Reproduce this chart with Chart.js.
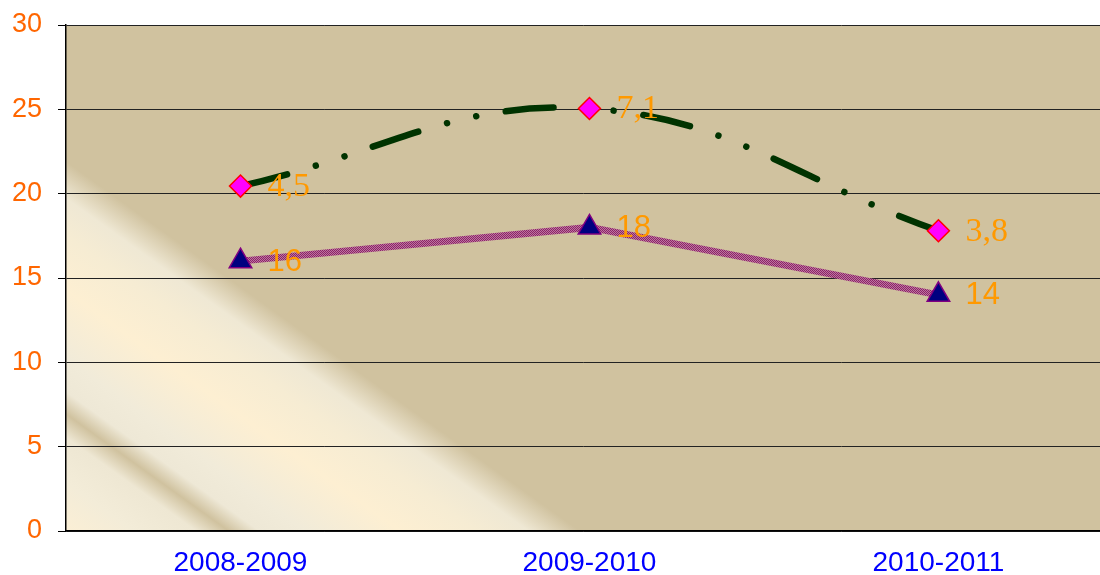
<!DOCTYPE html>
<html>
<head>
<meta charset="utf-8">
<script src="https://cdn.jsdelivr.net/npm/chart.js@4.4.1/dist/chart.umd.min.js"></script>
<style>
  html, body { margin: 0; padding: 0; background: #fff; }
  #chart { display: block; }
</style>
</head>
<body>
<canvas id="chart" width="1100" height="575"></canvas>
<script>
// datos
const temporadas = ['2008-2009', '2009-2010', '2010-2011'];
const valoresArriba = [20.45, 25.05, 17.8];
const etiquetasArriba = ['4,5', '7,1', '3,8'];
const valoresAbajo = [16, 18, 14];
const etiquetasAbajo = ['16', '18', '14'];
const yMin = 0, yMax = 30, yPaso = 5;
// el gráfico original está recortado a la derecha: el eje x va de -0.5 a ~2.46
const xMin = -0.5, xMax = 2.463;

// textura de la línea malva (cuadriculado fino)
function patronMalva() {
    const c = document.createElement('canvas');
    c.width = 2; c.height = 2;
    const g = c.getContext('2d');
    g.fillStyle = '#BC74A0'; g.fillRect(0, 0, 2, 2);
    g.fillStyle = '#8C2466'; g.fillRect(0, 0, 1, 1); g.fillRect(1, 1, 1, 1);
    return document.getElementById('chart').getContext('2d').createPattern(c, 'repeat');
}

const fondoPlugin = {
    id: 'fondo',
    beforeDraw(chart) {
        const { ctx, chartArea: a } = chart;
        const D = 320;
        const g = ctx.createLinearGradient(a.left, a.bottom, a.left + 0.584 * D, a.bottom - 0.812 * D);
        const paradas = [
            [0, '#FBEFD5'], [40, '#F3ECD8'], [76, '#EEE7D3'], [95, '#D0C29F'],
            [113, '#EEE8D6'], [140, '#F1EBD9'], [195, '#FDEFD2'], [240, '#F6ECD3'],
            [270, '#EFE8D4'], [300, '#D0C29F'], [320, '#D0C29F']
        ];
        paradas.forEach(p => g.addColorStop(p[0] / D, p[1]));
        ctx.save();
        ctx.fillStyle = g;
        ctx.fillRect(a.left, a.top, a.right - a.left, a.bottom - a.top);
        ctx.restore();
    }
};

const etiquetasPlugin = {
    id: 'etiquetas',
    afterDatasetsDraw(chart) {
        const ctx = chart.ctx;
        const conjuntos = [
            { textos: etiquetasArriba, font: '34px "Liberation Serif", "Times New Roman", serif' },
            { textos: etiquetasAbajo, font: '31px "Liberation Sans", Arial, sans-serif' }
        ];
        ctx.save();
        ctx.fillStyle = '#FF9900';
        ctx.textAlign = 'left';
        ctx.textBaseline = 'middle';
        conjuntos.forEach((c, i) => {
            const meta = chart.getDatasetMeta(i);
            ctx.font = c.font;
            meta.data.forEach((pt, j) => {
                ctx.fillText(c.textos[j], pt.x + 27, pt.y + 1);
            });
        });
        ctx.restore();
    }
};

const puntos = vals => vals.map((v, i) => ({ x: i, y: v }));

new Chart(document.getElementById('chart'), {
    type: 'line',
    data: {
        datasets: [
            {
                data: puntos(valoresArriba),
                borderColor: '#003300',
                borderWidth: 6.5,
                borderDash: [48, 30, 0.01, 30, 0.01, 30],
                borderCapStyle: 'round',
                tension: 0.4,
                pointStyle: 'rectRot',
                pointRadius: 11,
                pointBackgroundColor: '#FF00FF',
                pointBorderColor: '#FF0000',
                pointBorderWidth: 1.5
            },
            {
                data: puntos(valoresAbajo),
                borderColor: patronMalva(),
                borderWidth: 7,
                tension: 0,
                pointStyle: 'triangle',
                pointRadius: 13,
                pointBackgroundColor: '#000080',
                pointBorderColor: '#800080',
                pointBorderWidth: 1.5
            }
        ]
    },
    options: {
        responsive: false,
        animation: false,
        layout: { autoPadding: false, padding: { top: 25, right: 0, left: 0, bottom: 0 } },
        plugins: { legend: { display: false }, tooltip: { enabled: false } },
        scales: {
            x: {
                type: 'linear',
                min: xMin,
                max: xMax,
                grid: { display: false, drawTicks: false },
                border: { display: true, color: '#000', width: 1.5 },
                afterBuildTicks(scale) {
                    scale.ticks = temporadas.map((t, i) => ({ value: i }));
                },
                ticks: {
                    color: '#0000FF',
                    padding: 15,
                    maxRotation: 0,
                    autoSkip: false,
                    callback: v => temporadas[v],
                    font: { family: '"Liberation Sans", Arial, sans-serif', size: 28 }
                },
                afterFit(scale) { scale.height = 44; }
            },
            y: {
                min: yMin,
                max: yMax,
                grid: { color: '#222', lineWidth: 1, tickLength: 8, tickColor: '#000' },
                border: { display: true, color: '#000', width: 1.5 },
                ticks: {
                    stepSize: yPaso,
                    color: '#FF6600',
                    padding: 16,
                    font: { family: '"Liberation Sans", Arial, sans-serif', size: 27 }
                },
                afterFit(scale) {
                    scale.width = 66;
                    scale.paddingTop = 0;
                    scale.paddingBottom = 0;
                }
            }
        }
    },
    plugins: [fondoPlugin, etiquetasPlugin]
});
</script>
</body>
</html>
